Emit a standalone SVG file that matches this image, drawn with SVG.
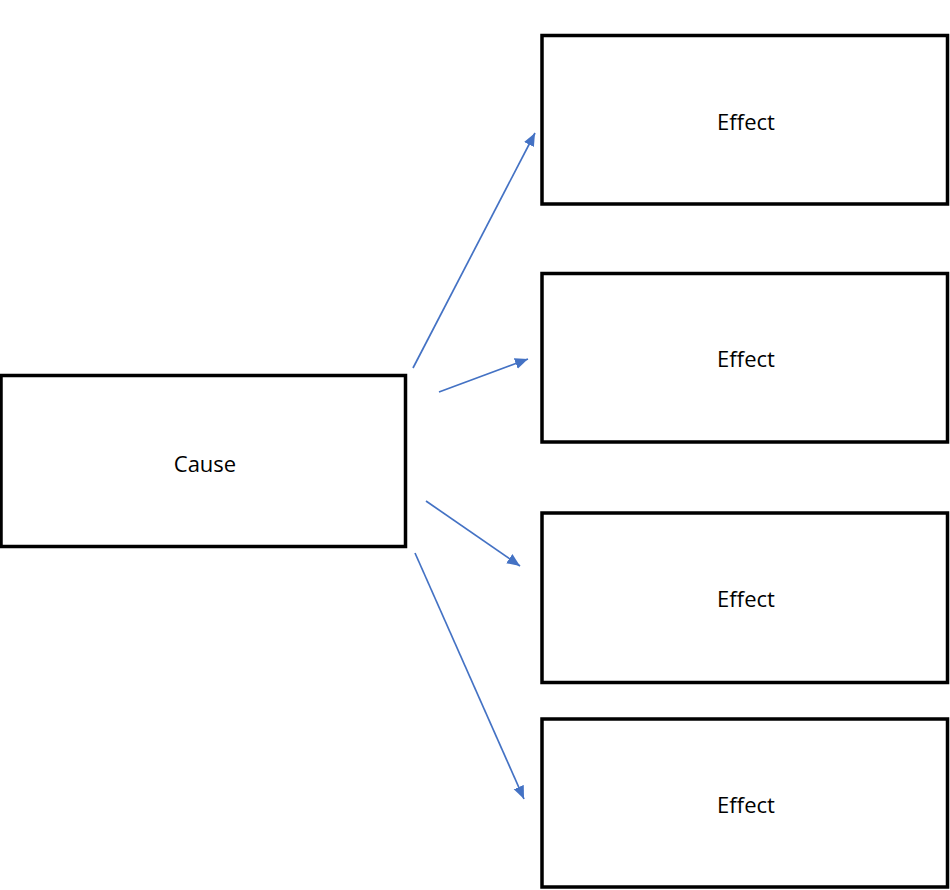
<svg xmlns="http://www.w3.org/2000/svg" width="950" height="890" viewBox="0 0 950 890">
<defs>
<style>
.box{fill:#fff;stroke:#000;stroke-width:3.5}
.lbl{font-family:"Open Sans","Liberation Sans",sans-serif;font-size:22px;fill:#000;text-anchor:middle}
.conn{stroke:#4472C4;stroke-width:1.7;fill:none;marker-end:url(#ah)}
</style>
<marker id="ah" markerUnits="userSpaceOnUse" markerWidth="16" markerHeight="14" refX="13" refY="5.5" orient="auto">
<path d="M0,0 L13,5.5 L0,11 Z" fill="#4472C4"/>
</marker>
</defs>
<rect width="950" height="890" fill="#fff"/>
<g id="cause"><rect class="box" x="1" y="375.5" width="404.5" height="171"/><text class="lbl" x="205" y="472">Cause</text></g>
<g id="effect1"><rect class="box" x="542" y="35.5" width="405.5" height="168.5"/><text class="lbl" x="746" y="130">Effect</text></g>
<g id="effect2"><rect class="box" x="542" y="273.5" width="405.5" height="168.5"/><text class="lbl" x="746" y="367">Effect</text></g>
<g id="effect3"><rect class="box" x="542" y="513" width="405.5" height="169.5"/><text class="lbl" x="746" y="607">Effect</text></g>
<g id="effect4"><rect class="box" x="542" y="719" width="405.5" height="168"/><text class="lbl" x="746" y="813">Effect</text></g>
<g id="connectors">
<line class="conn" x1="413" y1="368" x2="535" y2="133"/>
<line class="conn" x1="439" y1="392" x2="528" y2="359"/>
<line class="conn" x1="426" y1="501" x2="520" y2="566"/>
<line class="conn" x1="415" y1="553" x2="524" y2="799"/>
</g>
</svg>
